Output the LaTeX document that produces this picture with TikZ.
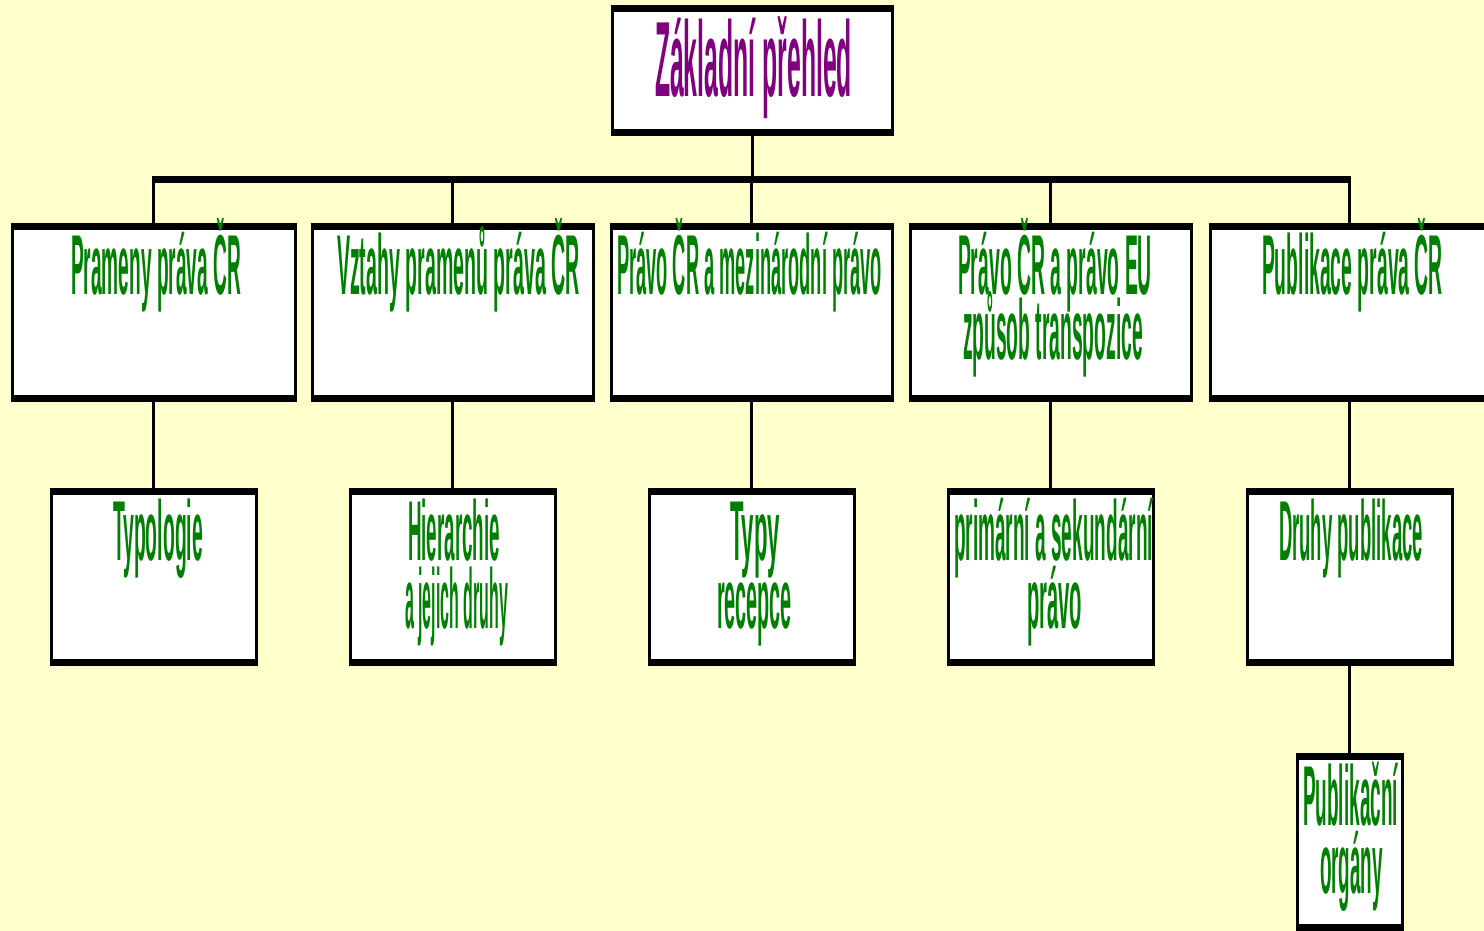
\documentclass[tikz,border=0pt]{standalone}
\usepackage{fontspec}
\setmainfont{Liberation Sans}
\usepackage{graphicx}
\definecolor{bgyellow}{HTML}{FFFFCC}
\definecolor{txtgreen}{HTML}{008000}
\definecolor{txtpurple}{HTML}{800080}
\newcommand{\sqz}[2]{\resizebox{#1pt}{\height}{#2}}
\begin{document}
\begin{tikzpicture}[x=1pt,y=-1pt,
  box/.style={rectangle, fill=white, draw=black, line width=3pt, inner sep=0pt, outer sep=0pt},
  edgeh/.style={draw=black, line width=7pt, shorten <=-1.5pt, shorten >=-1.5pt},
  conn/.style={draw=black, line width=3pt},
  bus/.style={draw=black, line width=7pt},
  lvtext/.style={text=txtgreen, font=\fontsize{85}{85}\selectfont\bfseries, anchor=base, inner sep=0pt},
  toptext/.style={text=txtpurple, font=\fontsize{107}{107}\selectfont\bfseries, anchor=base, inner sep=0pt}]
\useasboundingbox (0,0) rectangle (1484,931);
\fill[bgyellow] (0,0) rectangle (1484,931);
\clip (0,0) rectangle (1484,931);

% boxes
\node[box, minimum width=280pt, minimum height=124pt] (top) at (752,71) {};
\node[box, minimum width=283pt, minimum height=172pt] (a1) at (153.5,312) {};
\node[box, minimum width=281pt, minimum height=172pt] (a2) at (452.5,312) {};
\node[box, minimum width=281pt, minimum height=172pt] (a3) at (751.5,312) {};
\node[box, minimum width=281pt, minimum height=172pt] (a4) at (1050.5,312) {};
\node[box, minimum width=283pt, minimum height=172pt] (a5) at (1351.5,312) {};
\node[box, minimum width=205pt, minimum height=171pt] (b1) at (153.5,576.5) {};
\node[box, minimum width=205pt, minimum height=171pt] (b2) at (452.5,576.5) {};
\node[box, minimum width=205pt, minimum height=171pt] (b3) at (751.5,576.5) {};
\node[box, minimum width=205pt, minimum height=171pt] (b4) at (1050.5,576.5) {};
\node[box, minimum width=205pt, minimum height=171pt] (b5) at (1349.5,576.5) {};
\node[box, minimum width=105pt, minimum height=171pt] (c5) at (1349.5,841.5) {};

% thick top and bottom edges
\foreach \n in {top,a1,a2,a3,a4,a5,b1,b2,b3,b4,b5,c5}{
  \draw[edgeh] (\n.north west) -- (\n.north east);
  \draw[edgeh] (\n.south west) -- (\n.south east);
}

% connectors
\coordinate (busy) at (0,180);
\draw[bus] ([xshift=-1.5pt]b1.north |- busy) -- ([xshift=1.5pt]b5.north |- busy);
\draw[conn] (top.south) -- (top.south |- busy);
\foreach \n in {1,2,3,4,5}{
  \draw[conn] (b\n.north |- busy) -- (b\n.north |- a\n.north);
  \draw[conn] (b\n.north |- a\n.south) -- (b\n.north);
}
\draw[conn] (b5.south) -- (c5.north);

% texts
\node[toptext] (ttop) at (753.5,97) {\sqz{197}{Základní přehled}};

\node[lvtext] (ta1) at (156,294) {\sqz{170}{Prameny práva ČR}};
\node[lvtext] (ta2) at (458.5,294) {\sqz{243}{Vztahy pramenů práva ČR}};
\node[lvtext] (ta3) at (749.5,294) {\sqz{265}{Právo ČR a mezinárodní právo}};
\node[lvtext] (ta4) at (1055,294) {\sqz{194}{Právo ČR a právo EU}};
\node[lvtext] (ta4b) at (1053,359) {\sqz{180}{způsob transpozice}};
\node[lvtext] (ta5) at (1352.5,294) {\sqz{181}{Publikace práva ČR}};

\node[lvtext] (tb1) at (158,560) {\sqz{90}{Typologie}};
\node[lvtext] (tb2) at (454,560) {\sqz{92}{Hierarchie}};
\node[lvtext] (tb2b) at (456.5,628) {\sqz{103}{a jejich druhy}};
\node[lvtext] (tb3) at (755,560) {\sqz{50}{Typy}};
\node[lvtext] (tb3b) at (754.5,628) {\sqz{75}{recepce}};
\node[lvtext] (tb4) at (1053.5,560) {\sqz{199}{primární a sekundární}};
\node[lvtext] (tb4b) at (1054.5,628) {\sqz{55}{právo}};
\node[lvtext] (tb5) at (1351,560) {\sqz{144}{Druhy publikace}};

\node[lvtext] (tc5) at (1350.5,825) {\sqz{95}{Publikační}};
\node[lvtext] (tc5b) at (1351.5,893) {\sqz{63}{orgány}};
\end{tikzpicture}
\end{document}
